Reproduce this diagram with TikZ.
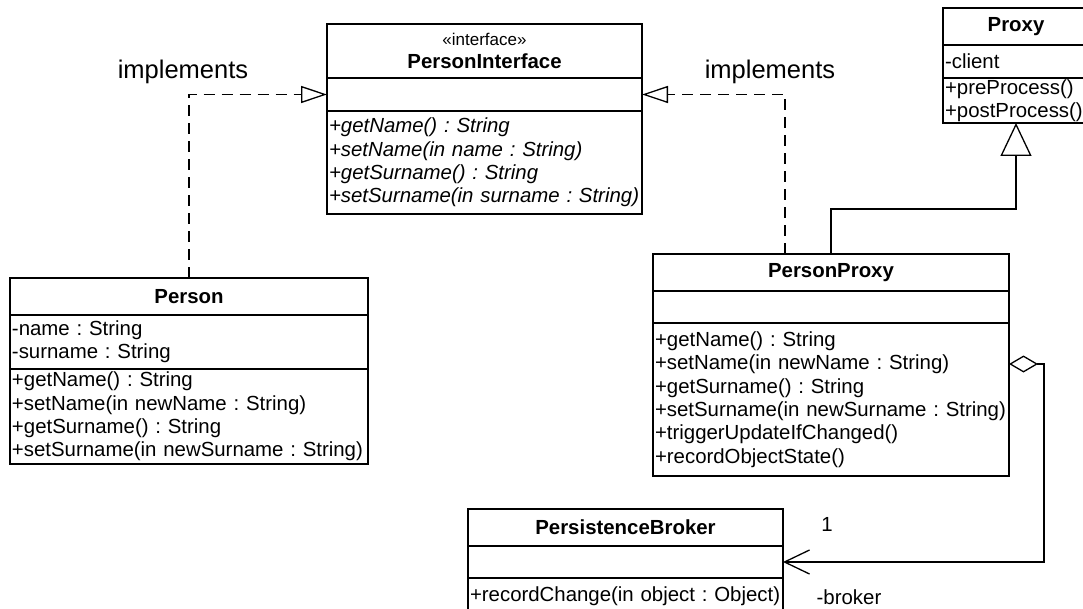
\documentclass[tikz,border=0pt]{standalone}
\usepackage{fontspec}
\setmainfont{Liberation Sans}
\usetikzlibrary{arrows.meta,calc}
\newcommand\clsfont{\fontsize{20.4}{23.4}\selectfont\frenchspacing}
\newcommand\lblfont{\fontsize{25.5}{28}\selectfont}
\newcommand\stereofont{\fontsize{17}{20}\selectfont}
\newcommand\mln[1]{\mbox{#1}}
\begin{document}
\begin{tikzpicture}[x=1pt,y=-1pt,
  comp/.style={draw, line width=1.6pt, anchor=north west, inner xsep=2pt, inner ysep=0pt, outer sep=0pt, font=\clsfont},
  ctitle/.style={comp, font=\clsfont\bfseries},
  clist/.style={comp, align=left, text width=#1},
  real/.style={line width=1.3pt, dash pattern=on 11pt off 7pt, -{Triangle[open, length=26pt, width=17pt, line width=1.3pt]}},
  gen/.style={line width=1.3pt, -{Triangle[open, length=33pt, width=31pt, line width=1.3pt]}},
  agg/.style={line width=1.3pt, {Diamond[open, length=29pt, width=17pt, line width=1.3pt]}-{Straight Barb[length=25pt, width=24pt, line width=1.3pt]}},
  lbl/.style={font=\lblfont, inner sep=0pt},
  small/.style={font=\clsfont, inner sep=0pt}
]
\useasboundingbox (0,0) rectangle (1083,609);
\fill[white] (0,0) rectangle (1083,609);

% PersonInterface
\node[comp, minimum width=315pt, minimum height=54pt, align=center] (ifT) at (327,24) {{\stereofont «interface»}\\\textbf{PersonInterface}};
\node[comp, minimum width=315pt, minimum height=33pt] (ifA) at (327,78) {};
\node[clist=311pt, minimum height=103pt, font=\clsfont\itshape] (ifO) at (327,111) {\mln{+getName() : String}\\\mln{+setName(in name : String)}\\\mln{+getSurname() : String}\\\mln{+setSurname(in surname : String)}};

% Person
\node[ctitle, minimum width=358pt, minimum height=37pt] (personT) at (10,278) {Person};
\node[clist=354pt, minimum height=54pt] (personA) at (10,315) {\mln{-name : String}\\\mln{-surname : String}};
\node[clist=354pt, minimum height=95pt] (personO) at (10,369) {\mln{+getName() : String}\\\mln{+setName(in newName : String)}\\\mln{+getSurname() : String}\\\mln{+setSurname(in newSurname : String)}};

% PersonProxy
\node[ctitle, minimum width=356pt, minimum height=37pt] (ppT) at (653,254) {PersonProxy};
\node[comp, minimum width=356pt, minimum height=32pt] (ppA) at (653,291) {};
\node[clist=352pt, minimum height=153pt] (ppO) at (653,323) {\mln{+getName() : String}\\\mln{+setName(in newName : String)}\\\mln{+getSurname() : String}\\\mln{+setSurname(in newSurname : String)}\\\mln{+triggerUpdateIfChanged()}\\\mln{+recordObjectState()}};

% Proxy
\node[ctitle, minimum width=146pt, minimum height=37pt] (prT) at (943,8) {Proxy};
\node[clist=142pt, minimum height=33pt] (prA) at (943,45) {\mln{-client}};
\node[clist=142pt, minimum height=45pt] (prO) at (943,78) {\mln{+preProcess()}\\\mln{+postProcess()}};

% PersistenceBroker
\node[ctitle, minimum width=315pt, minimum height=37pt] (pbT) at (468,509) {PersistenceBroker};
\node[comp, minimum width=315pt, minimum height=32pt] (pbA) at (468,546) {};
\node[clist=311pt, minimum height=37pt] (pbO) at (468,578) {\mln{+recordChange(in object : Object)}};

% labels
\node[lbl] (impl1) at (183,72) {implements};
\node[lbl] (impl2) at (770,72) {implements};
\node[small] (mult) at (827,524) {1};
\node[small] (role) at (849,597) {-broker};

% connectors
\draw[real] (personT.north) |- (ifA.west);
\draw[real] ([xshift=-46pt]ppT.north) |- (ifA.east);
\coordinate (gbend) at (0,209);
\draw[gen] (ppT.north) -- (ppT.north |- gbend) -| (prO.south);
\draw[agg] ([yshift=35.5pt]ppO.east) -- ++(35,0) |- (pbA.east);
\end{tikzpicture}
\end{document}
